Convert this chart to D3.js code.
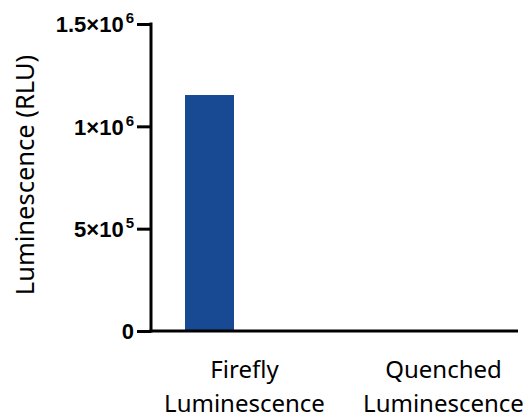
<!DOCTYPE html>
<html>
<head>
<meta charset="utf-8">
<script src="https://cdn.jsdelivr.net/npm/d3@7"></script>
<style>
  body { margin: 0; background: #fff; }
  svg { display: block; }
</style>
</head>
<body>
<svg></svg>
<script>
let categories = ["Firefly Luminescence", "Quenched Luminescence"];
let labelLines = [["Firefly", "Luminescence"], ["Quenched", "Luminescence"]];
let values = [1153000, 0];
let tickValues = [0, 500000, 1000000, 1500000];
let tickMantissa = ["0", "5", "1", "1.5"];
let tickExponent = ["", "5", "6", "6"];

let width = 523, height = 415;
let svg = d3.select("svg").attr("width", width).attr("height", height);

let yScale = d3.scaleLinear()
  .domain([0, 1500000])
  .range([331, 24]);

let xScale = d3.scaleBand()
  .domain(categories)
  .range([145, 543]);

let barColor = "#174a92";

// bars
svg.selectAll("rect.bar")
  .data(values)
  .enter()
  .append("rect")
  .attr("class", "bar")
  .attr("x", (d, i) => xScale(categories[i]) + 40)
  .attr("width", 49)
  .attr("y", d => yScale(d))
  .attr("height", d => yScale(0) - yScale(d))
  .attr("fill", barColor);

// y axis
let yAxis = d3.axisLeft(yScale)
  .tickValues(tickValues)
  .tickSize(14)
  .tickFormat("");

let gy = svg.append("g")
  .attr("transform", "translate(151,0)")
  .call(yAxis);
gy.select(".domain").attr("stroke-width", 3).attr("d", "M0,22.5V332.5");
gy.selectAll(".tick line").attr("stroke-width", 3);

let tickText = gy.selectAll(".tick text")
  .attr("x", -17)
  .attr("dy", "0.36em")
  .attr("font-family", "'Liberation Sans', Arial, sans-serif")
  .attr("font-weight", "bold")
  .attr("font-size", 22)
  .attr("fill", "#000")
  .attr("text-anchor", "end");

tickText.each(function(d, i) {
  let t = d3.select(this);
  t.text(null);
  if (tickExponent[i] === "") {
    t.append("tspan").text(tickMantissa[i]);
  } else {
    t.append("tspan").text(tickMantissa[i] + "\u00d710");
    t.append("tspan")
      .attr("font-size", 15)
      .attr("dy", "-0.6em")
      .attr("dx", 2)
      .text(tickExponent[i]);
  }
});

// x axis line
svg.append("line")
  .attr("x1", 149.5)
  .attr("x2", 518)
  .attr("y1", yScale(0))
  .attr("y2", yScale(0))
  .attr("stroke", "#000")
  .attr("stroke-width", 3);

// x category labels
let clip = svg.append("defs").append("clipPath").attr("id", "clip1");
clip.append("rect").attr("x", 0).attr("y", 0).attr("width", 325).attr("height", height);

svg.selectAll("text.cat")
  .data(categories)
  .enter()
  .append("text")
  .attr("class", "cat")
  .attr("clip-path", (d, i) => i === 0 ? "url(#clip1)" : null)
  .attr("font-family", "'Noto Sans', sans-serif")
  .attr("font-size", 24)
  .attr("text-anchor", "middle")
  .attr("fill", "#000")
  .each(function(d, i) {
    let t = d3.select(this);
    labelLines[i].forEach((line, j) => {
      t.append("tspan")
        .attr("x", xScale(d) + xScale.bandwidth() / 2)
        .attr("y", 378 + j * 34)
        .text(line);
    });
  });

// y title
svg.append("text")
  .attr("transform", "translate(34,175) rotate(-90)")
  .attr("text-anchor", "middle")
  .attr("font-family", "'Noto Sans', sans-serif")
  .attr("font-size", 25.5)
  .attr("fill", "#000")
  .text("Luminescence (RLU)");
</script>
</body>
</html>
